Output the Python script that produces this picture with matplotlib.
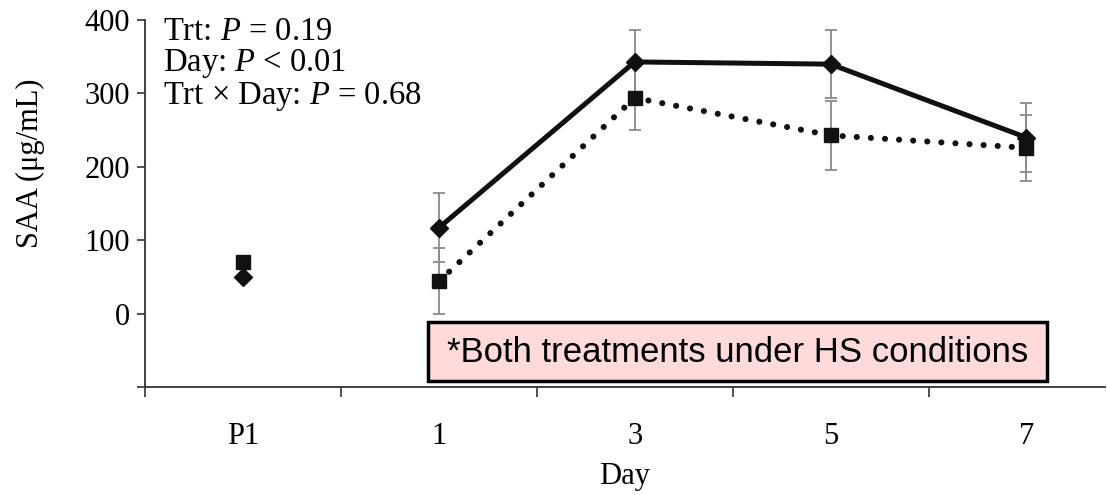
import numpy as np
import matplotlib
matplotlib.use("Agg")
import matplotlib.pyplot as plt
from matplotlib.patches import Rectangle

plt.rcParams['font.family'] = ['Liberation Serif', 'DejaVu Serif']
plt.rcParams['mathtext.fontset'] = 'custom'
plt.rcParams['mathtext.rm'] = 'Liberation Serif'
plt.rcParams['mathtext.it'] = 'Liberation Serif:italic'

# data
days = ['P1', '1', '3', '5', '7']
trt_a = [50, 117, 343, 340, 240]     # diamonds, solid line
trt_a_se = [0, 47, 44, 46, 47]
trt_b = [70, 44, 294, 243, 226]      # squares, dotted line
trt_b_se = [0, 45, 44, 47, 45]
y_ticks = [-100, 0, 100, 200, 300, 400]
y_labels = ['', '0', '100', '200', '300', '400']

x = np.arange(len(days))

fig = plt.figure(figsize=(11.07, 4.95), dpi=100)
ax = fig.add_axes([0.131, 0.218, 0.867, 0.7414])

# error bars only for the HS days (not P1)
ax.errorbar(x[1:], trt_a[1:], yerr=trt_a_se[1:], fmt='none', ecolor='#8a8a8a',
            elinewidth=1.3, capsize=4, capthick=1.3, zorder=1)
ax.errorbar(x[1:], trt_b[1:], yerr=trt_b_se[1:], fmt='none', ecolor='#8a8a8a',
            elinewidth=1.3, capsize=4, capthick=1.3, zorder=1)

# lines
ax.plot(x[1:], trt_b[1:], color='#111111', lw=4.4, dashes=(0.01, 2.3),
        dash_capstyle='round', zorder=2)
ax.plot(x[1:], trt_a[1:], color='#111111', lw=3.6, solid_joinstyle='round', zorder=2)

# markers
ax.plot(x, trt_a, 'D', color='#111111', ms=9, ls='none', zorder=3)
ax.plot(x, trt_b, 's', color='#111111', ms=10.5, ls='none', zorder=4)

ax.set_xlim(-0.5, 4.4)
ax.set_ylim(-100, 400)
ax.set_yticks(y_ticks)
ax.set_yticklabels(y_labels)

ax.set_xticks(np.arange(-0.5, 4, 1))
ax.set_xticklabels([])
ax.set_xticks(x, minor=True)
ax.set_xticklabels(days, minor=True)
ax.tick_params(axis='x', which='minor', length=0, pad=25, labelsize=22)
ax.tick_params(axis='x', which='major', length=7, width=1.2, direction='out', color='#333333')
ax.tick_params(axis='y', length=6, width=1.2, direction='out', pad=5, labelsize=22, color='#333333')

for s in ['top', 'right']:
    ax.spines[s].set_visible(False)
for s in ['left', 'bottom']:
    ax.spines[s].set_linewidth(1.3)
    ax.spines[s].set_color('#333333')

ax.set_ylabel('SAA (\u03bcg/mL)', fontsize=22)
ax.yaxis.set_label_coords(-0.104, 0.61)
ax.set_xlabel('Day', fontsize=22, labelpad=8)

ax.text(0.019, 1.01, 'Trt: $P$ = 0.19\nDay: $P$ < 0.01\nTrt \u00d7 Day: $P$ = 0.68',
        transform=ax.transAxes, ha='left', va='top', fontsize=23.5, linespacing=1.0)

# note box
fig.patches.append(Rectangle((428 / 1107, 1 - 381 / 495), (1047 - 428) / 1107, (381 - 322) / 495,
                             transform=fig.transFigure, facecolor='#ffdada',
                             edgecolor='black', lw=2.5, zorder=5))
fig.text((428 + 1047) / 2 / 1107, 1 - 352 / 495, '*Both treatments under HS conditions',
         ha='center', va='center', fontsize=25, family='Liberation Sans', zorder=6)

fig.savefig('out.png', dpi=100)
